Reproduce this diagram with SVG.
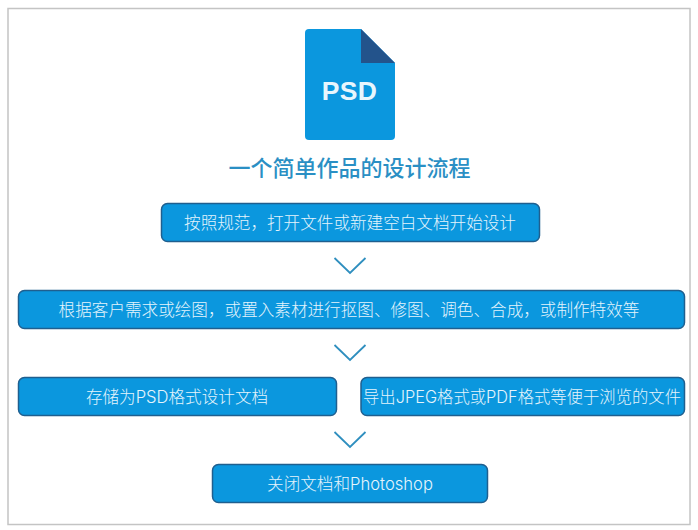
<svg xmlns="http://www.w3.org/2000/svg" width="698" height="530" viewBox="0 0 698 530">
<style>
.b{fill:#0b97de;stroke:#1f5f8f;stroke-width:1.5}
.t{font-family:"Inter","Noto Sans CJK SC",sans-serif;font-size:16.600px;fill:#e4f4fc;text-anchor:middle;font-weight:300}
.c{fill:none;stroke:#2f8fbf;stroke-width:1.800}
</style>
<rect x="0" y="0" width="698" height="530" fill="#fff"/>
<rect x="8" y="8.500" width="682" height="516" fill="#fff" stroke="#c4c4c4" stroke-width="1.500"/>
<g id="psd-icon">
<path d="M309 29H361L395 63V136a4 4 0 0 1-4 4H309a4 4 0 0 1-4-4V33a4 4 0 0 1 4-4Z" fill="#0b97de"/>
<path d="M361 29L395 63H361Z" fill="#23538b"/>
<text x="349.500" y="100" font-family="'Liberation Sans',sans-serif" font-size="26.500" font-weight="700" letter-spacing="0.300" fill="#e8f6fd" text-anchor="middle">PSD</text>
</g>
<g id="title"><text x="349.500" y="176" font-family="'Noto Sans CJK SC',sans-serif" font-size="22" font-weight="500" fill="#2a8fc4" text-anchor="middle">一个简单作品的设计流程</text></g>
<g id="node1"><rect class="b" x="161.500" y="203.500" width="378" height="38" rx="6"/><text class="t" x="350" y="228.500">按照规范，打开文件或新建空白文档开始设计</text></g>
<g id="node2"><rect class="b" x="18.500" y="290.500" width="666" height="38" rx="6"/><text class="t" x="349" y="315.500">根据客户需求或绘图，或置入素材进行抠图、修图、调色、合成，或制作特效等</text></g>
<g id="node3"><rect class="b" x="18.500" y="377.500" width="318" height="38" rx="6"/><text class="t" x="177" y="402.500">存储为PSD格式设计文档</text></g>
<g id="node4"><rect class="b" x="361" y="377.500" width="323.500" height="38" rx="6"/><text class="t" x="522" y="402.500" textLength="318" lengthAdjust="spacingAndGlyphs">导出JPEG格式或PDF格式等便于浏览的文件</text></g>
<g id="node5"><rect class="b" x="212.500" y="464.500" width="275" height="38" rx="6"/><text class="t" x="350" y="489.500">关闭文档和Photoshop</text></g>
<g id="connectors">
<path class="c" d="M334.500 258L350 273L365.500 258"/>
<path class="c" d="M334.500 345L350 360L365.500 345"/>
<path class="c" d="M334.500 432L350 447L365.500 432"/>
</g>
</svg>
